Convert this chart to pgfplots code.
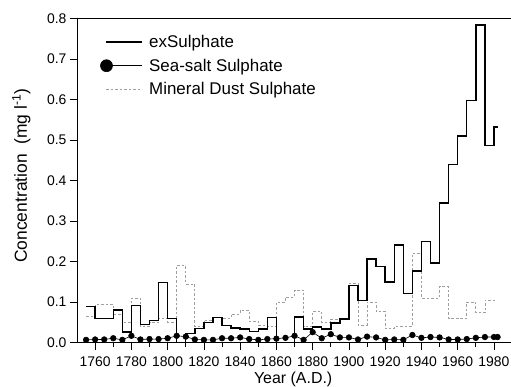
\documentclass[border=0pt]{standalone}
\usepackage{pgfplots}
\pgfplotsset{compat=1.18}
\usepackage{fontspec}
\setmainfont{Liberation Sans}
\pgfplotsset{
  leglineimg/.style={legend image code/.code={\draw[##1] (0bp,0bp) -- (36bp,0bp);}},
  legdotimg/.style={legend image code/.code={\draw[##1, mark=none] (0bp,0bp) -- (36bp,0bp); \fill[black] (0bp,0bp) circle (6bp);}},
}

\begin{document}
\begin{tikzpicture}
\useasboundingbox (0,0) rectangle (511bp,387bp);
\begin{axis}[
  at={(77bp,44.3bp)}, anchor=south west,
  scale only axis, width=434bp, height=324.4bp,
  xmin=1750, xmax=1989.4, ymin=0, ymax=0.8,
  axis x line*=box, axis y line*=left,
  axis line style={black, line width=0.8bp},
  xtick={1760,1780,...,1980}, minor xtick={1770,1790,...,1970},
  ytick={0,0.1,...,0.8},
  xtick pos=bottom, ytick pos=left,
  tick align=outside,
  major tick length=7bp, minor tick length=4.5bp,
  every tick/.style={black, line width=0.7bp},
  tick label style={font=\fontsize{14}{14}\selectfont},
  /pgf/number format/assume math mode=true,
  x tick label style={/pgf/number format/1000 sep={}, yshift=-3.5bp},
  y tick label style={/pgf/number format/fixed, /pgf/number format/fixed zerofill, /pgf/number format/precision=1},
  xlabel={Year (A.D.)},
  ylabel={Concentration\ \ (mg l\textsuperscript{-1})},
  xlabel style={font=\fontsize{16}{16}\selectfont, at={(axis description cs:0.498,-0.112)}, anchor=center},
  ylabel style={font=\fontsize{17.5}{17.5}\selectfont, at={(axis description cs:-0.128,0.515)}, anchor=center},
  legend style={at={(axis description cs:0.053,0.955)}, anchor=north west, draw=none, fill=none,
    font=\fontsize{17}{17}\selectfont, row sep=6bp, column sep=4bp, inner sep=0pt},
  legend cell align=left,
  clip=true,
]
% Mineral dust (behind)
\addplot[const plot, gray!75, line width=0.7bp, dash pattern=on 2.5bp off 2bp, forget plot] coordinates {
(1755,0.066) (1760,0.095) (1765,0.095) (1770,0.070) (1775,0.050) (1780,0.110) (1785,0.040)
(1790,0.050) (1795,0.060) (1800,0.050) (1805,0.190) (1810,0.145) (1815,0.040) (1820,0.056)
(1825,0.063) (1830,0.060) (1835,0.070) (1840,0.080) (1845,0.053) (1850,0.042) (1855,0.040)
(1860,0.100) (1865,0.113) (1870,0.130) (1875,0.040) (1880,0.077) (1885,0.050) (1890,0.058)
(1895,0.060) (1900,0.146) (1905,0.044) (1910,0.100) (1915,0.077) (1920,0.035) (1925,0.040)
(1930,0.040) (1935,0.220) (1940,0.110) (1945,0.110) (1950,0.138) (1955,0.060) (1960,0.060)
(1965,0.100) (1970,0.074) (1975,0.105) (1981,0.105)
};
% exSulphate
\addplot[const plot, black, line width=1.4bp, leglineimg] coordinates {
(1755,0.090) (1760,0.060) (1765,0.060) (1770,0.081) (1775,0.026) (1780,0.092) (1785,0.045)
(1790,0.055) (1795,0.148) (1800,0.059) (1805,0.000) (1810,0.022) (1815,0.035) (1820,0.050)
(1825,0.062) (1830,0.042) (1835,0.036) (1840,0.034) (1845,0.028) (1850,0.034) (1855,0.062)
(1860,0.000) (1865,0.001) (1870,0.063) (1875,0.034) (1880,0.039) (1885,0.034) (1890,0.049)
(1895,0.058) (1900,0.141) (1905,0.104) (1910,0.206) (1915,0.188) (1920,0.150) (1925,0.241)
(1930,0.122) (1935,0.177) (1940,0.249) (1945,0.197) (1950,0.345) (1955,0.440) (1960,0.510)
(1965,0.597) (1970,0.783) (1975,0.486) (1980,0.532) (1982,0.532)
};
\addlegendentry{exSulphate}
% Sea-salt
\addplot[black, line width=0.6bp, mark=*, mark size=2.8bp, mark options={fill=black}, legdotimg] coordinates {
(1755,0.007) (1760,0.008) (1765,0.008) (1770,0.011) (1775,0.007) (1780,0.017) (1785,0.008)
(1790,0.009) (1795,0.009) (1800,0.011) (1805,0.017) (1810,0.015) (1815,0.008) (1820,0.007)
(1825,0.007) (1830,0.011) (1835,0.011) (1840,0.013) (1845,0.009) (1850,0.007) (1855,0.009)
(1860,0.010) (1865,0.012) (1870,0.017) (1875,0.007) (1880,0.026) (1885,0.011) (1890,0.021)
(1895,0.013) (1900,0.013) (1905,0.008) (1910,0.015) (1915,0.013) (1920,0.007) (1925,0.008)
(1930,0.007) (1935,0.019) (1940,0.012) (1945,0.014) (1950,0.013) (1955,0.008) (1960,0.008)
(1965,0.009) (1970,0.012) (1975,0.014) (1980,0.014) (1982,0.014)
};
\addlegendentry{Sea-salt Sulphate}
\addlegendimage{gray!75, line width=0.7bp, dash pattern=on 2.5bp off 2bp, leglineimg}
\addlegendentry{Mineral Dust Sulphate}
\end{axis}
\end{tikzpicture}
\end{document}
